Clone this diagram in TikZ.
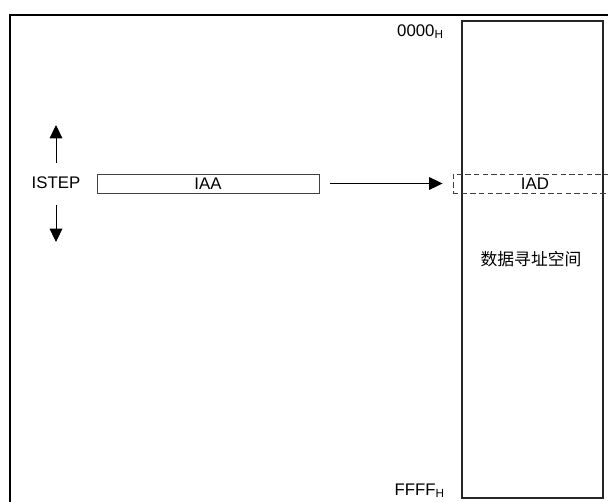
\documentclass[tikz,border=0pt]{standalone}
\usepackage{fontspec}
\setmainfont{Liberation Sans}
\newfontfamily\cjk{Noto Sans CJK SC}
\usetikzlibrary{positioning,arrows.meta}

\begin{document}
\begin{tikzpicture}[
  x=0.75pt, y=-0.75pt,
  font=\fontsize{12.6}{14}\selectfont, >={Triangle[length=10pt,width=9.5pt]},
  fld/.style={draw=black!75, line width=0.7pt, inner sep=0pt, minimum height=14.25pt},
  arr/.style={->, line width=0.75pt},
  lbl/.style={inner sep=0pt},
]
% page = 608 x 501 px, one unit = one pixel
\useasboundingbox (0,0) rectangle (608,501);
\clip (0,0) rectangle (608,501);

% outer frame, runs off the right and bottom edges
\coordinate (frmtl) at (10,15);
\coordinate (frmbr) at (640,530);
\draw[line width=1.6pt] (frmtl) rectangle (frmbr);

% data address space
\node[draw=black!85, line width=0.8pt, minimum width=105.75pt, minimum height=357.75pt] (space) at (532.5,259.5) {};
\node[lbl, anchor=base east] (top) at (444,36) {0000\textsubscript{H}};
\node[lbl, anchor=base east] (bot) at (445,495) {FFFF\textsubscript{H}};
\node[lbl, font=\fontsize{12.6}{14}\cjk] (dsp) at (531,259) {数据寻址空间};

% ISTEP with up / down arrows
\node[lbl] (istep) at (56,183) {ISTEP};
\coordinate (stepup) at (56,125);
\coordinate (stepdn) at (56,242);
\draw[arr, shorten <=10.5pt] (istep.north) -- (stepup);
\draw[arr, shorten <=11.5pt] (istep.south) -- (stepdn);

% IAA -> IAD
\node[fld, minimum width=166.5pt] (iaa) at (208,183.5) {IAA};
\node[fld, dash pattern=on 4pt off 2.5pt, minimum width=123pt] (iad) at (535,183.5) {IAD};
\draw[arr, shorten <=8.25pt, shorten >=7.5pt] (iaa.east) -- (iad.west);
\end{tikzpicture}
\end{document}
